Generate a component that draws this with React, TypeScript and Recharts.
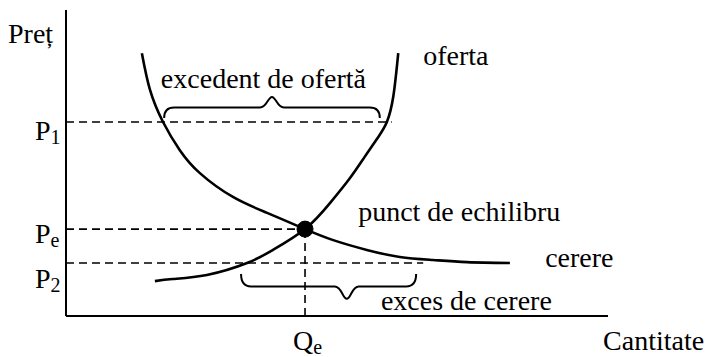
import { LineChart, Line, XAxis, YAxis, ReferenceLine, ReferenceDot, ReferenceArea } from 'recharts';

// cantitate (Q) și preț (P) în unități arbitrare, 0–10 pe ambele axe
const demandQ = [1.4, 1.55, 1.79, 2.1, 2.47, 3.08, 3.71, 4.41, 4.93, 5.55, 6.16, 6.77, 7.4, 8.19];
const demandP = [8.59, 7.39, 6.34, 5.42, 4.67, 3.89, 3.37, 2.84, 2.48, 2.16, 1.93, 1.83, 1.76, 1.73];
const supplyQ = [1.64, 1.97, 2.6, 3.34, 3.82, 4.41, 4.87, 5.24, 5.51, 5.75, 5.92, 6.04, 6.13];
const supplyP = [1.14, 1.21, 1.34, 1.73, 2.16, 2.84, 3.69, 4.51, 5.2, 5.82, 6.34, 7.19, 8.59];

const Qe = 4.41;
const Pe = 2.84;
const P1 = 6.34;
const P2 = 1.73;

// capetele liniilor punctate
const p1LineEnd = 6.01;
const p2LineEnd = 6.59;

const priceTicks = [P2, Pe, P1];
const priceSubs = ['2', 'e', '1'];

// acolade: capete, vârf, nivel de bază și nivelul vârfului
const surplusBrace = { from: 1.81, to: 5.79, tip: 3.8, base: 6.47, peak: 7.16 };
const shortageBrace = { from: 3.23, to: 6.46, tip: 5.18, base: 1.37, peak: 0.56 };

const noteText = ['Preț', 'excedent de ofertă', 'oferta', 'punct de echilibru', 'cerere', 'exces de cerere', 'Cantitate'];
const noteQ = [-1.07, 1.75, 6.59, 5.39, 8.84, 5.81, 9.91];
const noteP = [8.92, 7.45, 8.2, 3.1, 1.6, 0.2, -1.11];

const INK = '#000';
const FONT = '"Liberation Serif", "Times New Roman", serif';
const FS = 28;
const priceTickDy = [25, 14, 18];

const demand = demandQ.map((q, i) => ({ q, p: demandP[i] }));
const supply = supplyQ.map((q, i) => ({ q, p: supplyP[i] }));

function Brace({ x, y, width, height, tipAt, up }: any) {
  const x0 = x;
  const x1 = x + width;
  const xt = x + width * tipAt;
  const e = up ? y + height : y;
  const t = up ? y : y + height;
  const f = (e + t) / 2;
  const d =
    `M${x0},${e} Q${x0},${f} ${x0 + 10},${f} L${xt - 12},${f} ` +
    `C${xt - 5},${f} ${xt - 4},${t} ${xt},${t} C${xt + 4},${t} ${xt + 5},${f} ${xt + 12},${f} ` +
    `L${x1 - 10},${f} Q${x1},${f} ${x1},${e}`;
  return <path d={d} fill="none" stroke={INK} strokeWidth={2} />;
}

function PriceTick({ x, y, index }: any) {
  return (
    <text x={x - 31} y={y + priceTickDy[index]} fontFamily={FONT} fontSize={FS} fill={INK}>
      P
      <tspan fontSize={20} dy={4}>{priceSubs[index]}</tspan>
    </text>
  );
}

function QtyTick({ x, y }: any) {
  return (
    <text x={x - 12} y={y + 34} fontFamily={FONT} fontSize={FS} fill={INK}>
      Q
      <tspan fontSize={20} dy={4}>e</tspan>
    </text>
  );
}

export default function App() {
  const dash = { stroke: INK, strokeWidth: 1.6, strokeDasharray: '8 5' };
  return (
    <div style={{ position: 'absolute', left: 0, top: 0, background: '#fff' }}>
      <LineChart width={705} height={357} margin={{ top: 10, right: 97, left: 0, bottom: 0 }}>
        <XAxis
          type="number"
          dataKey="q"
          domain={[0, 10]}
          allowDataOverflow
          ticks={[Qe]}
          tick={<QtyTick />}
          tickLine={false}
          tickSize={0}
          tickMargin={0}
          height={41}
          axisLine={{ stroke: INK, strokeWidth: 2 }}
        />
        <YAxis
          type="number"
          domain={[0, 10]}
          allowDataOverflow
          ticks={priceTicks}
          tick={<PriceTick />}
          tickLine={false}
          tickSize={0}
          tickMargin={0}
          width={66}
          axisLine={{ stroke: INK, strokeWidth: 2 }}
        />

        <ReferenceLine segment={[{ x: 0, y: P1 }, { x: p1LineEnd, y: P1 }]} {...dash} />
        <ReferenceLine segment={[{ x: 0, y: Pe }, { x: Qe, y: Pe }]} {...dash} />
        <ReferenceLine segment={[{ x: 0, y: P2 }, { x: p2LineEnd, y: P2 }]} {...dash} />
        <ReferenceLine segment={[{ x: Qe, y: 0 }, { x: Qe, y: Pe }]} {...dash} />

        <ReferenceArea
          x1={surplusBrace.from}
          x2={surplusBrace.to}
          y1={surplusBrace.base}
          y2={surplusBrace.peak}
          shape={(p: any) => (
            <Brace {...p} up tipAt={(surplusBrace.tip - surplusBrace.from) / (surplusBrace.to - surplusBrace.from)} />
          )}
        />
        <ReferenceArea
          x1={shortageBrace.from}
          x2={shortageBrace.to}
          y1={shortageBrace.base}
          y2={shortageBrace.peak}
          shape={(p: any) => (
            <Brace {...p} up={false} tipAt={(shortageBrace.tip - shortageBrace.from) / (shortageBrace.to - shortageBrace.from)} />
          )}
        />

        <Line data={demand} dataKey="p" type="natural" stroke={INK} strokeWidth={2.6} dot={false} isAnimationActive={false} />
        <Line data={supply} dataKey="p" type="natural" stroke={INK} strokeWidth={2.6} dot={false} isAnimationActive={false} />

        <ReferenceDot x={Qe} y={Pe} r={8} fill={INK} stroke={INK} />

        {noteText.map((t, i) => (
          <ReferenceDot
            key={t}
            x={noteQ[i]}
            y={noteP[i]}
            ifOverflow="visible"
            shape={(p: any) => (
              <text x={p.cx} y={p.cy} fontFamily={FONT} fontSize={FS} fill={INK}>
                {t}
              </text>
            )}
          />
        ))}
      </LineChart>
    </div>
  );
}
